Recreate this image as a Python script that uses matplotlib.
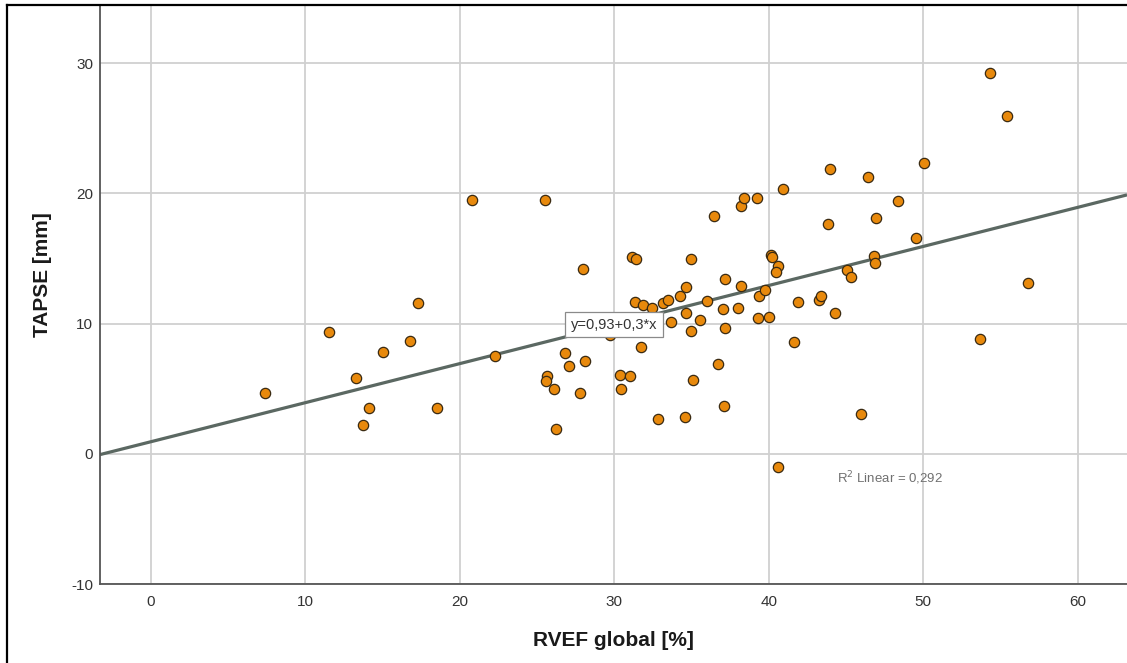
import matplotlib
matplotlib.use("Agg")
from matplotlib import pyplot as plt
from matplotlib.lines import Line2D
import numpy as np

plt.rcParams['font.family'] = ['Liberation Sans', 'DejaVu Sans']
plt.rcParams['axes.unicode_minus'] = False

# RVEF global [%] vs TAPSE [mm], one entry per patient
rvef = [7.4, 11.5, 13.25, 13.7, 14.15, 15.0, 16.8, 17.3, 18.5, 20.8,
        22.25, 25.5, 25.65, 25.55, 26.1, 26.2, 26.8, 27.05, 27.75, 28.0,
        28.1, 29.7, 30.4, 30.45, 31.0, 31.15, 31.4, 31.35, 31.7, 31.85,
        32.45, 32.85, 33.15, 33.5, 33.7, 34.25, 34.65, 34.6, 34.65, 34.95,
        34.95, 35.1, 35.55, 36.0, 36.45, 36.7, 37.05, 37.1, 37.15, 37.2,
        38.0, 38.2, 38.2, 38.4, 39.25, 39.3, 39.35, 39.75, 40.05, 40.15,
        40.2, 40.6, 40.45, 40.6, 40.9, 41.65, 41.9, 43.25, 43.4, 43.85,
        43.95, 44.3, 45.05, 45.3, 45.95, 46.45, 46.85, 46.9, 46.95, 48.4,
        49.55, 50.05, 53.65, 54.3, 55.45, 56.8]
tapse = [4.7, 9.35, 5.8, 2.25, 3.55, 7.85, 8.65, 11.6, 3.55, 19.5,
         7.5, 19.5, 6.0, 5.6, 5.0, 1.9, 7.75, 6.75, 4.65, 14.2,
         7.15, 9.1, 6.05, 4.95, 5.95, 15.1, 14.95, 11.65, 8.2, 11.4,
         11.2, 2.65, 11.6, 11.8, 10.15, 12.15, 12.8, 2.85, 10.8, 14.95,
         9.4, 5.65, 10.25, 11.75, 18.25, 6.9, 11.1, 3.65, 9.7, 13.45,
         11.2, 12.9, 19.05, 19.65, 19.65, 10.4, 12.1, 12.55, 10.5, 15.3,
         15.15, 14.45, 13.95, -1.0, 20.35, 8.6, 11.65, 11.85, 12.1, 17.65,
         21.85, 10.8, 14.1, 13.55, 3.05, 21.25, 15.2, 14.65, 18.15, 19.45,
         16.55, 22.35, 8.85, 29.25, 25.95, 13.15]

# linear fit as reported by the fit line label
intercept = 0.93
slope = 0.3
r_squared = 0.292

x_ticks = [0, 10, 20, 30, 40, 50, 60]
y_ticks = [-10, 0, 10, 20, 30]

W, H = 1127, 663
fig = plt.figure(figsize=(W / 100, H / 100), dpi=100)
fig.patch.set_facecolor('white')
ax = fig.add_axes([100 / W, (H - 584) / H, (W - 100) / W, (584 - 6) / H])

xmin, xmax = -3.3, 63.2
ymin, ymax = -10, 34.4
ax.set_xlim(xmin, xmax)
ax.set_ylim(ymin, ymax)

ax.set_xticks(x_ticks)
ax.set_yticks(y_ticks)
ax.grid(True, color='#d0d0d0', linewidth=1.3, zorder=0)
ax.tick_params(length=0, labelsize=11, labelcolor='#333333')
ax.tick_params(axis='x', pad=8)
ax.tick_params(axis='y', pad=5)

for side in ('top', 'right'):
    ax.spines[side].set_visible(False)
for side in ('left', 'bottom'):
    ax.spines[side].set_color('#555555')
    ax.spines[side].set_linewidth(1.3)

# fit line across the whole x range
xs = np.array([xmin, xmax])
ax.plot(xs, intercept + slope * xs, color='#5b6862', linewidth=2.3, zorder=2,
        solid_capstyle='butt')

ax.scatter(rvef, tapse, s=55, facecolor='#e8890c', edgecolor='#3a2a12',
           linewidth=0.9, zorder=3)

def fmt(v):
    return ('%g' % v).replace('.', ',')

ax.text(30.0, intercept + slope * 30.0,
        'y=%s+%s*x' % (fmt(intercept), fmt(slope)),
        ha='center', va='center', fontsize=10.5, color='#333333', zorder=5,
        bbox=dict(boxstyle='square,pad=0.4', facecolor='white',
                  edgecolor='#8a8a8a', linewidth=0.9))

ax.text(44.4, -1.9, 'R$^2$ Linear = %s' % fmt(r_squared), ha='left',
        va='center', fontsize=9.5, color='#707070', zorder=4)

ax.set_xlabel('RVEF global [%]', fontsize=15, fontweight='bold',
              color='#1a1a1a', labelpad=16)
ax.set_ylabel('TAPSE [mm]', fontsize=15, fontweight='bold',
              color='#1a1a1a')
ax.yaxis.set_label_coords(-0.047, 0.535)

# outer chart frame
fig.add_artist(Line2D([7 / W, 7 / W], [0, 1 - 5 / H], color='black',
                      linewidth=1.6, transform=fig.transFigure))
fig.add_artist(Line2D([7 / W, 1], [1 - 5 / H, 1 - 5 / H], color='black',
                      linewidth=1.6, transform=fig.transFigure))

fig.savefig('out.png', dpi=100)
